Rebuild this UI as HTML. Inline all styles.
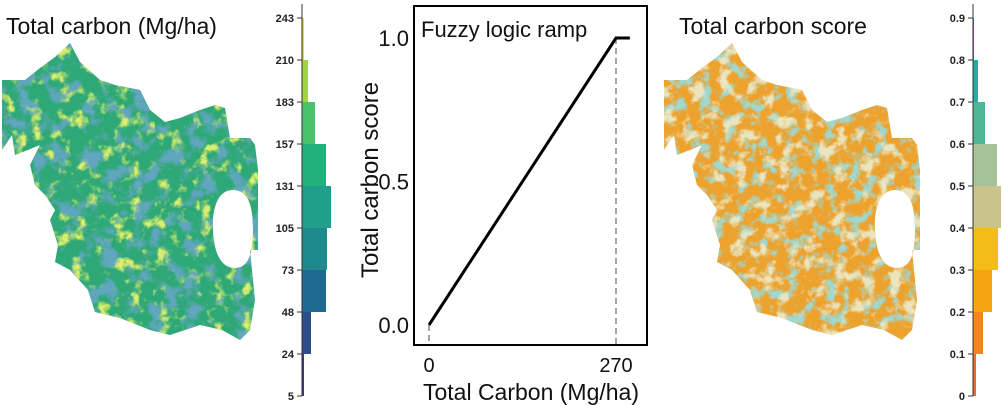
<!DOCTYPE html>
<html><head><meta charset="utf-8"><style>
html,body{margin:0;padding:0;background:#fff;}
svg{display:block;font-family:"Liberation Sans",sans-serif;}
</style></head><body>
<svg id="fig" width="1003" height="405" viewBox="0 0 1003 405">
<defs>
<clipPath id="mapclip">
<path d="M2,80 L25,80 L40,68 L55,57 L70,43 L80,62 L100,80 L115,85 L140,90 L150,110 L165,122 L180,118 L200,110 L215,105 L225,108 L230,138 L250,138 L255,145 L258,170 L258,250 L250,250 L255,300 L250,330 L240,340 L222,330 L200,325 L170,335 L150,330 L120,318 L95,312 L88,290 L70,270 L55,262 L58,245 L50,220 L55,210 L45,195 L35,185 L30,165 L40,145 L28,150 L15,155 L12,135 L2,150 Z M233,190 C215,190 212,215 213,230 C214,255 222,268 235,268 C250,268 253,250 253,230 C253,205 248,190 233,190 Z" clip-rule="evenodd" fill-rule="evenodd"/>
</clipPath>
<filter id="t1" x="0" y="0" width="100%" height="100%">
<feTurbulence type="fractalNoise" baseFrequency="0.07" numOctaves="4" seed="4" result="n"/>
<feColorMatrix in="n" type="matrix" values="0 0 0 0 0.72  0 0 0 0 0.86  0 0 0 0 0.15  5 0 0 0 -2.7"/>
</filter>
<filter id="t2" x="0" y="0" width="100%" height="100%">
<feTurbulence type="fractalNoise" baseFrequency="0.06" numOctaves="4" seed="11" result="n"/>
<feColorMatrix in="n" type="matrix" values="0 0 0 0 0.12  0 0 0 0 0.38  0 0 0 0 0.52  0 5 0 0 -2.5"/>
</filter>
<filter id="t3" x="0" y="0" width="100%" height="100%">
<feTurbulence type="fractalNoise" baseFrequency="0.08" numOctaves="4" seed="4" result="n"/>
<feColorMatrix in="n" type="matrix" values="0 0 0 0 0.35  0 0 0 0 0.68  0 0 0 0 0.62  -5 0 0 0 2.5"/>
</filter>
<filter id="t4" x="0" y="0" width="100%" height="100%">
<feTurbulence type="fractalNoise" baseFrequency="0.07" numOctaves="4" seed="9" result="n"/>
<feColorMatrix in="n" type="matrix" values="0 0 0 0 0.82  0 0 0 0 0.78  0 0 0 0 0.52  0 5 0 0 -2.6"/>
</filter>
</defs>

<g>
<g clip-path="url(#mapclip)">
<rect x="0" y="40" width="262" height="305" fill="#2fa878"/>
<rect x="0" y="40" width="262" height="305" filter="url(#t1)"/>
<rect x="0" y="40" width="262" height="305" filter="url(#t2)"/>
</g>
</g>
<text x="6" y="34" font-size="23" fill="#111">Total carbon (Mg/ha)</text>

<g transform="translate(662,0)">
<g clip-path="url(#mapclip)">
<rect x="0" y="40" width="262" height="305" fill="#eda22e"/>
<rect x="0" y="40" width="262" height="305" filter="url(#t3)"/>
<rect x="0" y="40" width="262" height="305" filter="url(#t4)"/>
</g>
</g>
<text x="679" y="34" font-size="23" fill="#111">Total carbon score</text>

<g id="lefthist"></g>
<g id="righthist"></g>
<g id="ramp"></g>
</svg>
<script>
const NS="http://www.w3.org/2000/svg";
function mk(t,a,p){const e=document.createElementNS(NS,t);for(const k in a)e.setAttribute(k,a[k]);p.appendChild(e);return e;}

// Left histogram data
const leftTicks=["5","24","48","73","105","131","157","183","210","243"];
const leftCounts=[2,9,24,25,29,24,13,6,2];
const leftColors=["#46337e","#2c4f8c","#1f6a90","#1f8a8c","#1ea08a","#22b17d","#4ac16d","#a0d33c","#e0e02a"];
// Right histogram data
const rightTicks=["0","0.1","0.2","0.3","0.4","0.5","0.6","0.7","0.8","0.9"];
const rightCounts=[3,10,19,25,28,24,12,5,1];
const rightColors=["#ee6a28","#f7861a","#f5a510","#f3bc18","#c8c48a","#a6c39a","#50b496","#1daf9f","#159fae"];

function hist(g,axisX,ticks,counts,colors,scaleW,lab){
  const y0=396,step=42;
  const y=i=>y0-i*step;
  const w=v=>v*scaleW;
  counts.forEach((c,i)=>{
    const r=mk('rect',{x:axisX,y:y(i+1),width:w(c),height:step,fill:colors[i]},g);
    
    
  });
  mk('line',{x1:axisX,y1:4,x2:axisX,y2:y0,stroke:'#333','stroke-width':1},g);
  ticks.forEach((t,i)=>{
    mk('line',{x1:axisX-5,y1:y(i),x2:axisX,y2:y(i),stroke:'#333','stroke-width':1},g);
    const tx=mk('text',{x:axisX-8,y:y(i)+4,'font-size':11,'font-weight':'bold','text-anchor':'end',fill:'#222'},g);
    tx.textContent=t;
    
    
  });
}
hist(document.getElementById('lefthist'),302,leftTicks,leftCounts,leftColors,1,'left');
hist(document.getElementById('righthist'),973,rightTicks,rightCounts,rightColors,1,'right');

// Ramp chart
const rampX=[0,270,290];
const rampY=[0,1,1];
const xTicks=[0,270];
const yTicks=[0,0.5,1.0];
(function(){
  const g=document.getElementById('ramp');
  const sx=v=>429+v*(616-429)/270;
  const sy=v=>325-v*(325-38);
  const box=mk('rect',{x:414,y:6,width:233,height:339,fill:'none',stroke:'#000','stroke-width':2},g);
  
  
  xTicks.forEach(v=>{
    const d=mk('line',{x1:sx(v),y1:sy(rampY[rampX.indexOf(v)]),x2:sx(v),y2:345,stroke:'#888','stroke-width':1.5,'stroke-dasharray':'6,4'},g);
    
    
    const t=mk('text',{x:sx(v),y:372,'font-size':20,'text-anchor':'middle',fill:'#111'},g);
    t.textContent=String(v);
    
    
  });
  yTicks.forEach(v=>{
    const t=mk('text',{x:409,y:sy(v)+8,'font-size':22,'text-anchor':'end',fill:'#111'},g);
    t.textContent=v.toFixed(1);
    
    
  });
  const pts=rampX.map((x,i)=>sx(x)+','+sy(rampY[i])).join(' ');
  const pl=mk('polyline',{points:pts,fill:'none',stroke:'#000','stroke-width':3},g);
  
  
  const ti=mk('text',{x:421,y:37,'font-size':22,fill:'#111'},g);
  ti.textContent='Fuzzy logic ramp';
  
  
  const xl=mk('text',{x:531,y:400,'font-size':23,'text-anchor':'middle',fill:'#111'},g);
  xl.textContent='Total Carbon (Mg/ha)';
  
  
  const yl=mk('text',{x:0,y:0,'font-size':24,'text-anchor':'middle',fill:'#111',transform:'translate(378,180) rotate(-90)'},g);
  yl.textContent='Total carbon score';
  
  
})();
</script>
</body></html>
